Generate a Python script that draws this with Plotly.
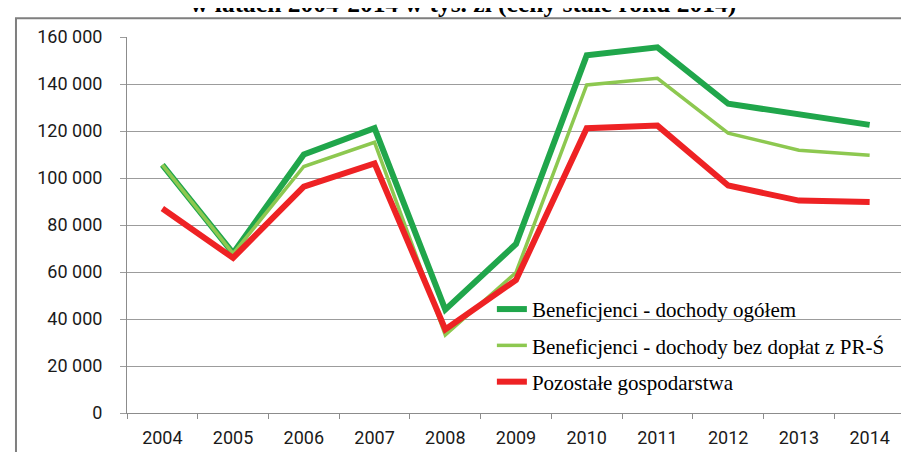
import plotly.graph_objects as go

years = ["2004", "2005", "2006", "2007", "2008", "2009", "2010", "2011", "2012", "2013", "2014"]
benef_ogolem = [105600, 68000, 110000, 121200, 44000, 71900, 152200, 155600, 131600, 127000, 122600]
benef_bez_doplat = [105600, 67800, 104900, 115200, 33200, 59800, 139600, 142400, 119100, 111800, 109700]
pozostale = [87000, 66000, 96300, 106200, 35600, 56600, 121200, 122300, 96800, 90400, 89800]

names = [
    "Beneficjenci - dochody ogółem",
    "Beneficjenci - dochody bez dopłat z PR-Ś",
    "Pozostałe gospodarstwa",
]
title_text = "w latach 2004-2014 w tys. zł (ceny stałe roku 2014)"
colors = ["#20A64B", "#8DC850", "#EE2224"]
widths = [6, 3.5, 6]
series = [benef_ogolem, benef_bez_doplat, pozostale]

SERIF = "Liberation Serif, Times New Roman, Tinos, DejaVu Serif, serif"
SANS = "Roboto, Carlito, Open Sans, sans-serif"

fig = go.Figure()
for i, (nm, vals) in enumerate(zip(names, series)):
    fig.add_trace(go.Scatter(
        x=years, y=vals, mode="lines", name=nm, legendgroup=f"g{i}",
        line=dict(color=colors[i], width=widths[i]),
    ))

fig.update_layout(
    width=909, height=452,
    margin=dict(l=119, r=12, t=29, b=41),
    paper_bgcolor="white", plot_bgcolor="white",
    separators=", ",
    showlegend=True,
    legend=dict(
        x=0.469, xanchor="left", y=0.330, yanchor="top",
        bgcolor="rgba(0,0,0,0)", borderwidth=0,
        font=dict(family=SERIF, size=21, color="black"),
        traceorder="grouped", tracegroupgap=6,
    ),
    xaxis=dict(
        type="category", range=[-0.5, 10.5], tickson="boundaries",
        ticks="outside", ticklen=5,
        tickcolor="#8c8c8c", showline=True, linecolor="#8c8c8c", linewidth=1,
        showgrid=False, ticklabelstandoff=8,
        tickfont=dict(family=SANS, size=18, color="#1a1a1a"),
    ),
    yaxis=dict(
        range=[0, 160000], dtick=20000, tickformat=",d",
        showgrid=True, gridcolor="#9c9c9c", gridwidth=1,
        ticks="outside", ticklen=6, tickcolor="#9c9c9c",
        showline=True, linecolor="#8c8c8c", linewidth=1, zeroline=False,
        ticklabelstandoff=14,
        tickfont=dict(family=SANS, size=18, color="#1a1a1a"),
    ),
    annotations=[dict(
        text="<b>" + title_text + "</b>",
        xref="paper", yref="paper", x=0.4315, y=1.089,
        xanchor="center", yanchor="middle", showarrow=False,
        font=dict(family=SERIF, size=25.5, color="black"),
    )],
    shapes=[dict(
        type="rect", xref="paper", yref="paper",
        x0=-0.1427, x1=1.03, y0=-0.13, y1=1.0497,
        line=dict(color="#7f7f7f", width=2), fillcolor="rgba(0,0,0,0)", layer="below",
    )],
)

fig.write_html("out.html")
